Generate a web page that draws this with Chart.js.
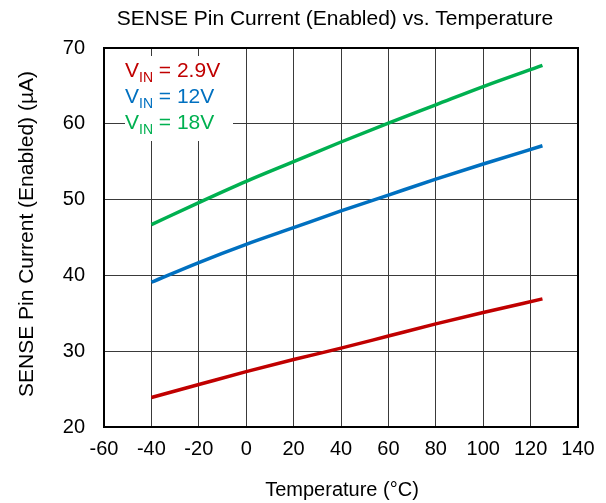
<!DOCTYPE html>
<html>
<head>
<meta charset="utf-8">
<script src="https://cdn.jsdelivr.net/npm/chart.js@4.4.1/dist/chart.umd.min.js"></script>
<style>
  html, body { margin: 0; padding: 0; background: #fff; }
  #wrap { width: 606px; height: 503px; }
</style>
</head>
<body>
<div id="wrap"><canvas id="c" width="606" height="503"></canvas></div>
<script>
// Temperature sweep (°C) and SENSE pin current (µA) for each supply voltage
const temperatures = [-40, -20, 0, 20, 40, 60, 80, 100, 125];
const current29V = [23.9, 25.6, 27.3, 28.9, 30.4, 32.0, 33.6, 35.1, 36.9];
const current12V = [39.1, 41.7, 44.1, 46.3, 48.5, 50.6, 52.7, 54.7, 57.1];
const current18V = [46.7, 49.6, 52.4, 55.0, 57.6, 60.1, 62.5, 64.9, 67.7];

const seriesNames = ['2.9V', '12V', '18V'];
const seriesColors = ['#C00000', '#0070C0', '#00B050'];

const xTicks = [-60, -40, -20, 0, 20, 40, 60, 80, 100, 120, 140];
const yTicks = [20, 30, 40, 50, 60, 70];

const titleText = 'SENSE Pin Current (Enabled) vs. Temperature';
const xTitleText = 'Temperature (°C)';
const yTitleText = 'SENSE Pin Current (Enabled) (µA)';

const FONT = 'Arial, "Liberation Sans", sans-serif';

function toPoints(values) {
  return temperatures.map((t, i) => ({ x: t, y: values[i] }));
}

const datasets = [current29V, current12V, current18V].map((vals, i) => ({
  label: 'VIN = ' + seriesNames[i],
  data: toPoints(vals),
  borderColor: seriesColors[i],
  backgroundColor: seriesColors[i],
  borderWidth: 3.5,
  pointRadius: 0,
  cubicInterpolationMode: 'monotone',
  fill: false
}));

// Titles, frame and the inline V_IN key
const decorations = {
  id: 'decorations',
  afterDraw(chart) {
    const ctx = chart.ctx;
    const a = chart.chartArea;
    ctx.save();

    // plot frame
    ctx.strokeStyle = '#000';
    ctx.lineWidth = 2;
    ctx.strokeRect(a.left, a.top, a.right - a.left, a.bottom - a.top);

    ctx.fillStyle = '#000';
    ctx.textAlign = 'center';
    ctx.textBaseline = 'alphabetic';

    ctx.font = '21px ' + FONT;
    ctx.fillText(titleText, 335, 25);

    ctx.font = '20px ' + FONT;
    ctx.fillText(xTitleText, 342, 496);

    ctx.save();
    ctx.translate(33, 234);
    ctx.rotate(-Math.PI / 2);
    ctx.font = '21px ' + FONT;
    ctx.fillText(yTitleText, 0, 0);
    ctx.restore();

    // key with subscripted V_IN
    ctx.fillStyle = '#fff';
    ctx.fillRect(125, 56, 108, 85);
    const baselines = [77, 103, 129];
    ctx.textAlign = 'left';
    seriesNames.forEach((name, i) => {
      let x = 125;
      const y = baselines[i];
      ctx.fillStyle = seriesColors[i];
      ctx.font = '21px ' + FONT;
      ctx.fillText('V', x, y);
      x += ctx.measureText('V').width;
      ctx.font = '14px ' + FONT;
      ctx.fillText('IN', x, y + 5);
      x += ctx.measureText('IN').width;
      ctx.font = '21px ' + FONT;
      ctx.fillText(' = ' + name, x, y);
    });
    ctx.restore();
  }
};

new Chart(document.getElementById('c'), {
  type: 'line',
  data: { datasets },
  options: {
    responsive: false,
    animation: false,
    devicePixelRatio: 1,
    layout: { padding: { left: 0, right: 28, top: 48, bottom: 0 } },
    plugins: {
      legend: { display: false },
      title: { display: false },
      tooltip: { enabled: false }
    },
    scales: {
      x: {
        type: 'linear',
        min: -60,
        max: 140,
        afterBuildTicks(scale) { scale.ticks = xTicks.map(v => ({ value: v })); },
        afterFit(scale) { scale.height = 76; },
        grid: { color: '#3a3a3a', lineWidth: 1, drawTicks: false },
        border: { display: true, color: '#000', width: 2 },
        ticks: { color: '#000', font: { family: FONT, size: 20 }, padding: 10, maxRotation: 0, autoSkip: false }
      },
      y: {
        type: 'linear',
        min: 20,
        max: 70,
        afterBuildTicks(scale) { scale.ticks = yTicks.map(v => ({ value: v })); },
        afterFit(scale) { scale.width = 104; },
        grid: { color: '#3a3a3a', lineWidth: 1, drawTicks: false },
        border: { display: true, color: '#000', width: 2 },
        ticks: { color: '#000', font: { family: FONT, size: 20 }, padding: 19, autoSkip: false }
      }
    }
  },
  plugins: [decorations]
});
</script>
</body>
</html>
